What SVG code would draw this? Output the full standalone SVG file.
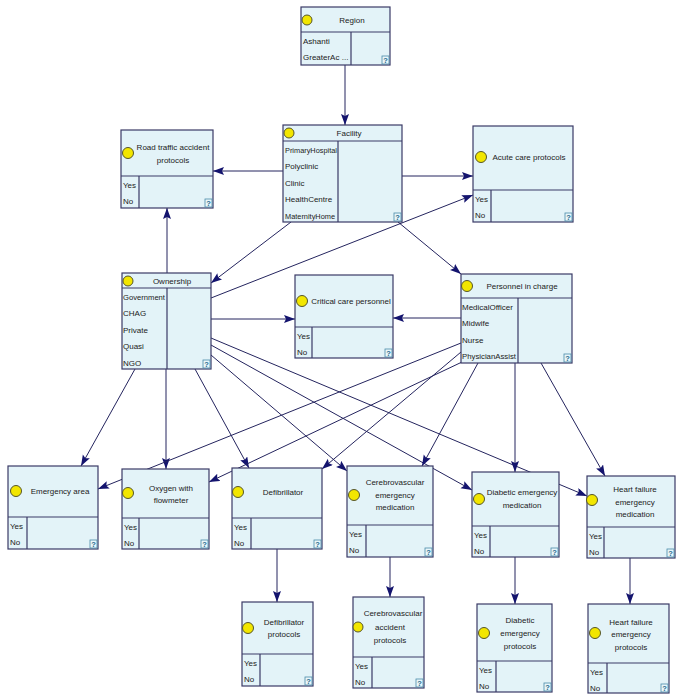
<svg xmlns="http://www.w3.org/2000/svg" width="685" height="699" viewBox="0 0 685 699">
<defs>
<marker id="arr" markerUnits="userSpaceOnUse" markerWidth="12" markerHeight="9" refX="11" refY="4" orient="auto">
<path d="M0,0 L11,4 L0,8 L2,4 z" fill="#14146e"/>
</marker>
<style>
.box{fill:#e3f3f8;stroke:#3a3a66;stroke-width:1.2}
.dv{stroke:#3a3a66;stroke-width:1.2}
.dot{fill:#f2e600;stroke:#55552a;stroke-width:1}
.t{font-family:"Liberation Sans",Arial,sans-serif;font-size:8px;fill:#222;text-anchor:middle}
.s{font-family:"Liberation Sans",Arial,sans-serif;font-size:8px;fill:#222}
.q{fill:#e8f6fa;stroke:#4a8aa8;stroke-width:0.8}
.qt{font-family:"Liberation Sans",Arial,sans-serif;font-size:7.5px;font-weight:bold;fill:#1e6a8a;text-anchor:middle}
.e{stroke:#24245e;stroke-width:1;fill:none;marker-end:url(#arr)}
</style>
</defs>
<rect width="685" height="699" fill="#ffffff"/>

<g id="connectors">
<line class="e" x1="345" y1="65" x2="345" y2="125"/>
<line class="e" x1="283" y1="171" x2="213" y2="171"/>
<line class="e" x1="402" y1="176" x2="473" y2="176"/>
<line class="e" x1="291" y1="222" x2="211" y2="283"/>
<line class="e" x1="398" y1="222" x2="461" y2="274"/>
<line class="e" x1="167" y1="273" x2="167" y2="208"/>
<line class="e" x1="211" y1="298" x2="473" y2="195"/>
<line class="e" x1="211" y1="319" x2="295" y2="319"/>
<line class="e" x1="461" y1="318" x2="393" y2="318"/>
<line class="e" x1="135" y1="369" x2="81" y2="466"/>
<line class="e" x1="166" y1="369" x2="166" y2="469"/>
<line class="e" x1="195" y1="369" x2="249" y2="468"/>
<line class="e" x1="211" y1="355" x2="347" y2="471"/>
<line class="e" x1="211" y1="345" x2="472" y2="490"/>
<line class="e" x1="211" y1="338" x2="587" y2="496"/>
<line class="e" x1="461" y1="343" x2="98" y2="489"/>
<line class="e" x1="462" y1="362" x2="209" y2="482"/>
<line class="e" x1="461" y1="352" x2="322" y2="469"/>
<line class="e" x1="478" y1="363" x2="422" y2="466"/>
<line class="e" x1="515" y1="363" x2="515" y2="472"/>
<line class="e" x1="541" y1="363" x2="605" y2="476"/>
<line class="e" x1="277" y1="549" x2="277" y2="602"/>
<line class="e" x1="390" y1="557" x2="390" y2="597"/>
<line class="e" x1="515" y1="557" x2="515" y2="604"/>
<line class="e" x1="630" y1="558" x2="630" y2="604"/>
</g>

<g id="region">
<rect class="box" x="301" y="7" width="89" height="58"/>
<line class="dv" x1="301" y1="32" x2="390" y2="32"/>
<line class="dv" x1="351" y1="32" x2="351" y2="65"/>
<circle class="dot" cx="307" cy="20" r="5"/>
<text class="t" x="352" y="23">Region</text>
<text class="s" x="303" y="43.5">Ashanti</text>
<text class="s" x="303" y="60">GreaterAc ...</text>
<rect class="q" x="382" y="56" width="7" height="8"/>
<text class="qt" x="385.5" y="63">?</text>
</g>

<g id="facility">
<rect class="box" x="283" y="125" width="119" height="97"/>
<line class="dv" x1="283" y1="141" x2="402" y2="141"/>
<line class="dv" x1="338" y1="141" x2="338" y2="222"/>
<circle class="dot" cx="289" cy="133" r="5"/>
<text class="t" x="349" y="136">Facility</text>
<text class="s" x="285" y="152.5" textLength="52" lengthAdjust="spacingAndGlyphs">PrimaryHospital</text>
<text class="s" x="285" y="169">Polyclinic</text>
<text class="s" x="285" y="185.5">Clinic</text>
<text class="s" x="285" y="202">HealthCentre</text>
<text class="s" x="285" y="218.5" textLength="50" lengthAdjust="spacingAndGlyphs">MaternityHome</text>
<rect class="q" x="394" y="213" width="7" height="8"/>
<text class="qt" x="397.5" y="220">?</text>
</g>

<g id="road-traffic">
<rect class="box" x="121" y="130" width="92" height="78"/>
<line class="dv" x1="121" y1="176" x2="213" y2="176"/>
<line class="dv" x1="139" y1="176" x2="139" y2="208"/>
<circle class="dot" cx="128" cy="153" r="5.5"/>
<text class="t" x="173" y="150">Road traffic accident</text>
<text class="t" x="173" y="163">protocols</text>
<text class="s" x="123" y="187.5">Yes</text>
<text class="s" x="123" y="204">No</text>
<rect class="q" x="205" y="199" width="7" height="8"/>
<text class="qt" x="208.5" y="206">?</text>
</g>

<g id="acute-care">
<rect class="box" x="473" y="126" width="100" height="96"/>
<line class="dv" x1="473" y1="190" x2="573" y2="190"/>
<line class="dv" x1="491" y1="190" x2="491" y2="222"/>
<circle class="dot" cx="481" cy="157" r="5.5"/>
<text class="t" x="529" y="160">Acute care protocols</text>
<text class="s" x="475" y="201.5">Yes</text>
<text class="s" x="475" y="218">No</text>
<rect class="q" x="565" y="213" width="7" height="8"/>
<text class="qt" x="568.5" y="220">?</text>
</g>

<g id="ownership">
<rect class="box" x="122" y="273" width="89" height="96"/>
<line class="dv" x1="122" y1="288" x2="211" y2="288"/>
<line class="dv" x1="167" y1="288" x2="167" y2="369"/>
<circle class="dot" cx="128" cy="281" r="5"/>
<text class="t" x="172" y="284">Ownership</text>
<text class="s" x="123" y="299.5" textLength="42" lengthAdjust="spacingAndGlyphs">Government</text>
<text class="s" x="123" y="316">CHAG</text>
<text class="s" x="123" y="332.5">Private</text>
<text class="s" x="123" y="349">Quasi</text>
<text class="s" x="123" y="365.5">NGO</text>
<rect class="q" x="203" y="360" width="7" height="8"/>
<text class="qt" x="206.5" y="367">?</text>
</g>

<g id="critical-care">
<rect class="box" x="295" y="275" width="98" height="83"/>
<line class="dv" x1="295" y1="327" x2="393" y2="327"/>
<line class="dv" x1="312" y1="327" x2="312" y2="358"/>
<circle class="dot" cx="302" cy="301" r="5.5"/>
<text class="t" x="351" y="304">Critical care personnel</text>
<text class="s" x="297" y="338.5">Yes</text>
<text class="s" x="297" y="355">No</text>
<rect class="q" x="385" y="349" width="7" height="8"/>
<text class="qt" x="388.5" y="356">?</text>
</g>

<g id="personnel">
<rect class="box" x="461" y="274" width="111" height="89"/>
<line class="dv" x1="461" y1="298" x2="572" y2="298"/>
<line class="dv" x1="518" y1="298" x2="518" y2="363"/>
<circle class="dot" cx="467" cy="286" r="5.5"/>
<text class="t" x="522" y="289">Personnel in charge</text>
<text class="s" x="462" y="309.5">MedicalOfficer</text>
<text class="s" x="462" y="326">Midwife</text>
<text class="s" x="462" y="342.5">Nurse</text>
<text class="s" x="462" y="359" textLength="54" lengthAdjust="spacingAndGlyphs">PhysicianAssist</text>
<rect class="q" x="564" y="354" width="7" height="8"/>
<text class="qt" x="567.5" y="361">?</text>
</g>

<g id="emergency-area">
<rect class="box" x="8" y="466" width="90" height="83"/>
<line class="dv" x1="8" y1="517" x2="98" y2="517"/>
<line class="dv" x1="27" y1="517" x2="27" y2="549"/>
<circle class="dot" cx="16" cy="491" r="5.5"/>
<text class="t" x="60" y="494">Emergency area</text>
<text class="s" x="10" y="528.5">Yes</text>
<text class="s" x="10" y="545">No</text>
<rect class="q" x="90" y="540" width="7" height="8"/>
<text class="qt" x="93.5" y="547">?</text>
</g>

<g id="oxygen">
<rect class="box" x="122" y="469" width="87" height="80"/>
<line class="dv" x1="122" y1="518" x2="209" y2="518"/>
<line class="dv" x1="139" y1="518" x2="139" y2="549"/>
<circle class="dot" cx="128" cy="493" r="5.5"/>
<text class="t" x="171" y="491">Oxygen with</text>
<text class="t" x="171" y="503">flowmeter</text>
<text class="s" x="124" y="529.5">Yes</text>
<text class="s" x="124" y="546">No</text>
<rect class="q" x="201" y="540" width="7" height="8"/>
<text class="qt" x="204.5" y="547">?</text>
</g>

<g id="defibrillator">
<rect class="box" x="232" y="468" width="90" height="81"/>
<line class="dv" x1="232" y1="518" x2="322" y2="518"/>
<line class="dv" x1="251" y1="518" x2="251" y2="549"/>
<circle class="dot" cx="238" cy="492" r="5.5"/>
<text class="t" x="283" y="495">Defibrillator</text>
<text class="s" x="234" y="529.5">Yes</text>
<text class="s" x="234" y="546">No</text>
<rect class="q" x="314" y="540" width="7" height="8"/>
<text class="qt" x="317.5" y="547">?</text>
</g>

<g id="cerebro-medication">
<rect class="box" x="347" y="466" width="86" height="91"/>
<line class="dv" x1="347" y1="525" x2="433" y2="525"/>
<line class="dv" x1="366" y1="525" x2="366" y2="557"/>
<circle class="dot" cx="354" cy="495" r="5.5"/>
<text class="t" x="395" y="485">Cerebrovascular</text>
<text class="t" x="395" y="498">emergency</text>
<text class="t" x="395" y="510">medication</text>
<text class="s" x="349" y="536.5">Yes</text>
<text class="s" x="349" y="553">No</text>
<rect class="q" x="425" y="548" width="7" height="8"/>
<text class="qt" x="428.5" y="555">?</text>
</g>

<g id="diabetic-medication">
<rect class="box" x="472" y="472" width="87" height="85"/>
<line class="dv" x1="472" y1="526" x2="559" y2="526"/>
<line class="dv" x1="490" y1="526" x2="490" y2="557"/>
<circle class="dot" cx="479" cy="499" r="5.5"/>
<text class="t" x="522" y="495">Diabetic emergency</text>
<text class="t" x="522" y="508">medication</text>
<text class="s" x="474" y="537.5">Yes</text>
<text class="s" x="474" y="554">No</text>
<rect class="q" x="551" y="548" width="7" height="8"/>
<text class="qt" x="554.5" y="555">?</text>
</g>

<g id="heart-medication">
<rect class="box" x="587" y="476" width="88" height="82"/>
<line class="dv" x1="587" y1="527" x2="675" y2="527"/>
<line class="dv" x1="604" y1="527" x2="604" y2="558"/>
<circle class="dot" cx="592" cy="500" r="5.5"/>
<text class="t" x="635" y="492">Heart failure</text>
<text class="t" x="635" y="505">emergency</text>
<text class="t" x="635" y="517">medication</text>
<text class="s" x="589" y="538.5">Yes</text>
<text class="s" x="589" y="555">No</text>
<rect class="q" x="667" y="549" width="7" height="8"/>
<text class="qt" x="670.5" y="556">?</text>
</g>

<g id="defibrillator-protocols">
<rect class="box" x="242" y="602" width="71" height="84"/>
<line class="dv" x1="242" y1="654" x2="313" y2="654"/>
<line class="dv" x1="260" y1="654" x2="260" y2="686"/>
<circle class="dot" cx="248" cy="628" r="5.5"/>
<text class="t" x="284" y="625">Defibrillator</text>
<text class="t" x="284" y="637">protocols</text>
<text class="s" x="244" y="665.5">Yes</text>
<text class="s" x="244" y="682">No</text>
<rect class="q" x="305" y="677" width="7" height="8"/>
<text class="qt" x="308.5" y="684">?</text>
</g>

<g id="cerebro-protocols">
<rect class="box" x="353" y="597" width="71" height="91"/>
<line class="dv" x1="353" y1="657" x2="424" y2="657"/>
<line class="dv" x1="372" y1="657" x2="372" y2="688"/>
<circle class="dot" cx="358" cy="627" r="5"/>
<text class="t" x="393" y="616">Cerebrovascular</text>
<text class="t" x="390" y="630">accident</text>
<text class="t" x="390" y="643">protocols</text>
<text class="s" x="355" y="668.5">Yes</text>
<text class="s" x="355" y="685">No</text>
<rect class="q" x="416" y="679" width="7" height="8"/>
<text class="qt" x="419.5" y="686">?</text>
</g>

<g id="diabetic-protocols">
<rect class="box" x="477" y="604" width="75" height="88"/>
<line class="dv" x1="477" y1="661" x2="552" y2="661"/>
<line class="dv" x1="496" y1="661" x2="496" y2="692"/>
<circle class="dot" cx="484" cy="633" r="5.5"/>
<text class="t" x="520" y="623">Diabetic</text>
<text class="t" x="520" y="636">emergency</text>
<text class="t" x="520" y="649">protocols</text>
<text class="s" x="479" y="672.5">Yes</text>
<text class="s" x="479" y="689">No</text>
<rect class="q" x="544" y="683" width="7" height="8"/>
<text class="qt" x="547.5" y="690">?</text>
</g>

<g id="heart-protocols">
<rect class="box" x="588" y="604" width="81" height="89"/>
<line class="dv" x1="588" y1="663" x2="669" y2="663"/>
<line class="dv" x1="607" y1="663" x2="607" y2="693"/>
<circle class="dot" cx="595" cy="633" r="5.5"/>
<text class="t" x="631" y="625">Heart failure</text>
<text class="t" x="631" y="637">emergency</text>
<text class="t" x="631" y="650">protocols</text>
<text class="s" x="590" y="674.5">Yes</text>
<text class="s" x="590" y="691">No</text>
<rect class="q" x="661" y="684" width="7" height="8"/>
<text class="qt" x="664.5" y="691">?</text>
</g>
</svg>
